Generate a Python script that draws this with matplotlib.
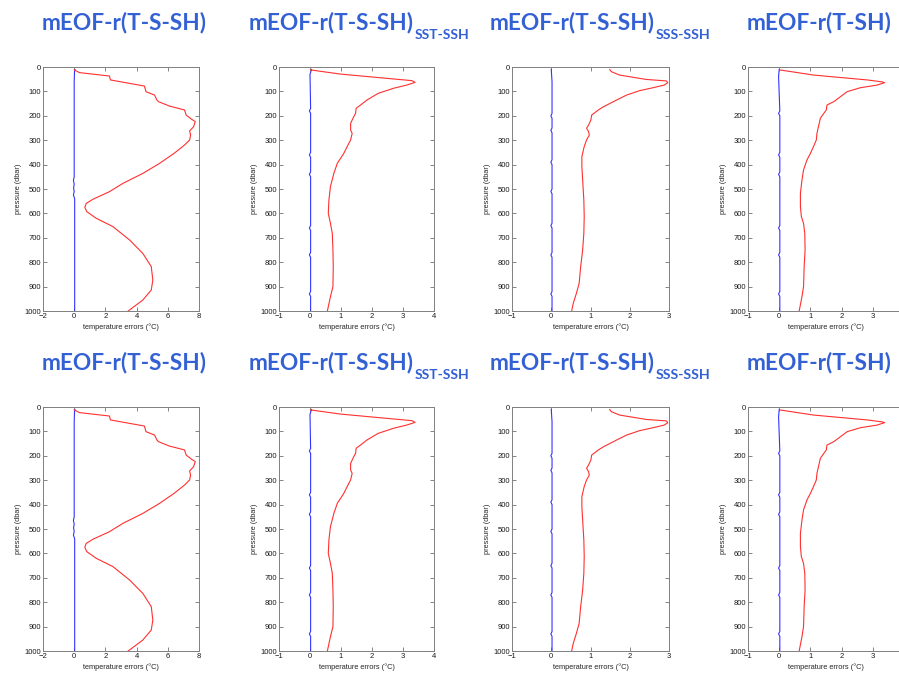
import matplotlib
matplotlib.use('Agg')
import matplotlib.pyplot as plt

W, H = 899, 673
DPI = 100

# ---------------- data ----------------
titles = ["mEOF-r(T-S-SH)", "mEOF-r(T-S-SH)", "mEOF-r(T-S-SH)", "mEOF-r(T-SH)"]
subscripts = ["", "SST-SSH", "SSS-SSH", ""]
xlims = [(-2, 8), (-1, 4), (-1, 3), (-1, 4)]
xticks_list = [[-2, 0, 2, 4, 6, 8], [-1, 0, 1, 2, 3, 4], [-1, 0, 1, 2, 3], [-1, 0, 1, 2, 3]]
yticks = [0, 100, 200, 300, 400, 500, 600, 700, 800, 900, 1000]

# red: errors of reconstructed profile
red_depth_1 = [12, 23, 37, 53, 78, 101, 115, 135, 142, 160, 176, 197, 213, 224, 245, 262, 279,
               299, 320, 354, 395, 436, 477, 511, 542, 559, 575, 593, 620, 654, 709, 764, 818,
               873, 914, 955, 1000]
red_temp_1 = [0.0, 0.34, 2.26, 2.32, 4.5, 4.6, 5.15, 5.3, 5.4, 6.1, 7.07, 7.18, 7.5, 7.76, 7.65,
              7.4, 7.46, 7.4, 7.07, 6.4, 5.47, 4.4, 3.12, 2.26, 1.2, 0.77, 0.68, 0.81, 1.41, 2.48,
              3.55, 4.4, 4.94, 5.04, 4.94, 4.4, 3.46]

red_depth_2 = [12, 29, 56, 63, 74, 87, 108, 135, 156, 169, 190, 204, 231, 258, 272, 299, 326, 354,
               395, 436, 490, 545, 600, 641, 682, 750, 818, 900, 941, 1000]
red_temp_2 = [0.02, 0.98, 3.29, 3.39, 3.12, 2.7, 2.2, 1.84, 1.63, 1.49, 1.47, 1.41, 1.31, 1.31,
              1.36, 1.31, 1.2, 1.09, 0.88, 0.77, 0.66, 0.61, 0.59, 0.66, 0.72, 0.74, 0.75, 0.74,
              0.66, 0.56]

red_depth_3 = [10, 19, 33, 51, 57, 64, 74, 85, 97, 115, 135, 149, 163, 176, 186, 197, 217, 238,
               251, 265, 279, 299, 326, 367, 408, 463, 545, 613, 682, 750, 818, 887, 928, 969, 1000]
red_temp_3 = [1.49, 1.53, 1.74, 2.42, 2.93, 2.97, 2.88, 2.59, 2.25, 1.92, 1.67, 1.5, 1.33, 1.2,
              1.12, 1.03, 1.01, 0.95, 0.9, 0.95, 0.97, 0.9, 0.84, 0.78, 0.78, 0.8, 0.83, 0.84,
              0.83, 0.8, 0.75, 0.71, 0.64, 0.56, 0.52]

red_depth_4 = [12, 33, 53, 61, 64, 74, 85, 101, 122, 142, 156, 176, 190, 210, 238, 272, 299, 326,
               354, 381, 422, 463, 518, 572, 613, 641, 682, 750, 818, 900, 941, 1000]
red_temp_4 = [0.02, 1.1, 2.82, 3.3, 3.38, 3.14, 2.6, 2.18, 1.96, 1.75, 1.53, 1.51, 1.43, 1.32,
              1.27, 1.21, 1.19, 1.1, 1.0, 0.89, 0.78, 0.73, 0.68, 0.68, 0.71, 0.78, 0.82, 0.83,
              0.8, 0.78, 0.73, 0.64]

# blue: near-zero bias profile
blue_depth_1 = [10, 20, 60, 450, 465, 480, 495, 510, 525, 540, 1000]
blue_temp_1 = [0.05, 0.02, 0.0, 0.0, -0.05, 0.0, -0.04, 0.0, -0.05, 0.03, 0.03]

blue_depth_2 = [10, 30, 170, 180, 190, 350, 360, 370, 430, 440, 450, 650, 660, 670, 760, 770,
                780, 920, 930, 940, 1000]
blue_temp_2 = [0.05, 0.0, 0.02, -0.02, 0.02, 0.02, -0.02, 0.02, 0.02, -0.02, 0.02, 0.02, -0.02,
               0.02, 0.02, -0.02, 0.02, 0.02, -0.02, 0.02, 0.02]

blue_depth_3 = [10, 60, 190, 200, 210, 250, 260, 270, 380, 390, 400, 500, 510, 520, 640, 650,
                660, 760, 770, 780, 920, 930, 940, 1000]
blue_temp_3 = [0.0, 0.02, 0.02, -0.01, 0.02, 0.02, -0.01, 0.02, 0.02, -0.01, 0.02, 0.02, -0.01,
               0.02, 0.02, -0.01, 0.02, 0.02, -0.01, 0.02, 0.02, -0.01, 0.02, 0.02]

blue_depth_4 = [10, 40, 180, 190, 200, 350, 360, 370, 430, 440, 450, 650, 660, 670, 760, 770,
                780, 920, 930, 940, 1000]
blue_temp_4 = [0.0, -0.02, 0.02, -0.02, 0.02, 0.02, -0.02, 0.02, 0.02, -0.02, 0.02, 0.02,
               -0.02, 0.02, 0.02, -0.02, 0.02, 0.02, -0.02, 0.02, 0.02]

red_depths = [red_depth_1, red_depth_2, red_depth_3, red_depth_4]
red_temps = [red_temp_1, red_temp_2, red_temp_3, red_temp_4]
blue_depths = [blue_depth_1, blue_depth_2, blue_depth_3, blue_depth_4]
blue_temps = [blue_temp_1, blue_temp_2, blue_temp_3, blue_temp_4]

xlabel = "temperature errors (°C)"
ylabel = "pressure (dbar)"

# ---------------- layout ----------------
col_px = [(43, 199), (279, 434), (512, 669), (748, 904)]
row_px = [(67, 311), (407, 651)]
title_left_px = [42, 249, 490, 747]
title_base_px = [29, 369]
sub_base_px = [39, 379]

TITLE_COLOR = '#3360D4'
TICK_FONT = 'Liberation Sans'

fig = plt.figure(figsize=(W / DPI, H / DPI), dpi=DPI)
fig.patch.set_facecolor('white')
renderer = fig.canvas.get_renderer()


def fit_text(t, target_px):
    bb = t.get_window_extent(renderer=renderer)
    t.set_fontsize(t.get_fontsize() * target_px / bb.width)
    return t


for r, (ytop, ybot) in enumerate(row_px):
    for c, (xl, xr) in enumerate(col_px):
        ax = fig.add_axes([xl / W, 1 - ybot / H, (xr - xl) / W, (ybot - ytop) / H])
        ax.plot(blue_temps[c], blue_depths[c], color='#3333FF', lw=0.8)
        ax.plot(red_temps[c], red_depths[c], color='#FF3030', lw=0.8)
        ax.set_xlim(*xlims[c])
        ax.set_ylim(1000, 0)
        ax.set_xticks(xticks_list[c])
        ax.set_yticks(yticks)
        ax.tick_params(direction='in', length=3, width=0.6, color='#707070',
                       labelsize=5.5, labelcolor='#1a1a1a', pad=1.5,
                       top=True, right=True)
        for lab in ax.get_xticklabels() + ax.get_yticklabels():
            lab.set_family(TICK_FONT)
        for s in ax.spines.values():
            s.set_color('#808080')
            s.set_linewidth(0.7)
        ax.set_xlabel(xlabel, fontsize=5.3, family=TICK_FONT, color='#262626', labelpad=2)
        ax.set_ylabel(ylabel, fontsize=5.3, family=TICK_FONT, color='#262626', labelpad=2)

        # title
        tx = title_left_px[c] / W
        ty = 1 - title_base_px[r] / H
        t = fig.text(tx, ty, titles[c], fontsize=16, family='Lato', weight='bold',
                     color=TITLE_COLOR, ha='left', va='baseline')
        target = 165 if titles[c] == "mEOF-r(T-S-SH)" else 145
        fit_text(t, target)
        if subscripts[c]:
            bb = t.get_window_extent(renderer=renderer)
            st = fig.text((bb.x1 + 1) / W, 1 - sub_base_px[r] / H, subscripts[c], fontsize=10,
                          family='Lato', weight='bold', color=TITLE_COLOR,
                          ha='left', va='baseline')
            fit_text(st, 55)

fig.savefig('out.png', dpi=DPI, facecolor='white')
